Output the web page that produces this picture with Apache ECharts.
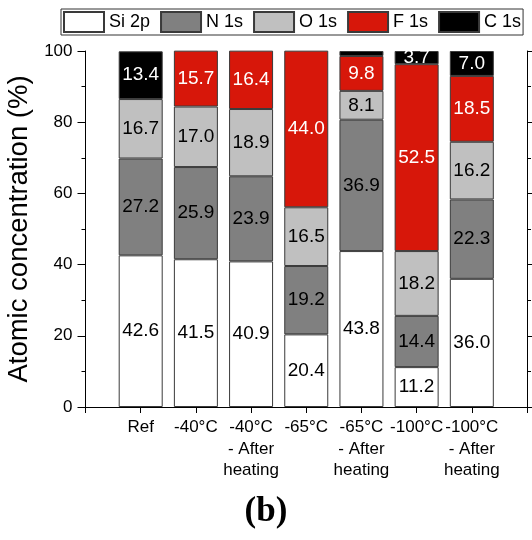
<!DOCTYPE html>
<html>
<head>
<meta charset="utf-8">
<script src="https://cdn.jsdelivr.net/npm/echarts@6/dist/echarts.min.js"></script>
<style>html,body{margin:0;padding:0;background:#fff}#c{width:532px;height:540px}</style>
</head>
<body>
<div id="c"></div>
<script>
const categories = ['Ref', '-40°C', '-40°C\n- After\nheating', '-65°C', '-65°C\n- After\nheating', '-100°C', '-100°C\n- After\nheating'];
const si2p = [42.6, 41.5, 40.9, 20.4, 43.8, 11.2, 36.0];
const n1s  = [27.2, 25.9, 23.9, 19.2, 36.9, 14.4, 22.3];
const o1s  = [16.7, 17.0, 18.9, 16.5, 8.1, 18.2, 16.2];
const f1s  = [null, 15.7, 16.4, 44.0, 9.8, 52.5, 18.5];
const c1s  = [13.4, null, null, null, 1.4, 3.7, 7.0];
const c1sLabelMin = 2; // small segments are not labelled
const yTicks = [0, 20, 40, 60, 80, 100];

const FONT = 'Liberation Sans, Arial, sans-serif';
const axisCats = [''].concat(categories, ['']);
function pad(arr) { return [null].concat(arr, [null]); }

function mkSeries(name, vals, color, labelColor, minLabel) {
  return {
    name: name, type: 'bar', stack: 'all', barWidth: 44,
    data: pad(vals).map(v => v == null ? '-' : v),
    itemStyle: { color: color, borderColor: '#3a3a3a', borderWidth: 1 },
    label: {
      show: true, position: 'inside', color: labelColor, fontSize: 19, fontFamily: FONT,
      formatter: p => (p.value < (minLabel || 0)) ? '' : Number(p.value).toFixed(1)
    },
    emphasis: { disabled: true }
  };
}

const chart = echarts.init(document.getElementById('c'), null, { renderer: 'canvas' });
const axisLine = { show: true, lineStyle: { color: '#000', width: 1 } };
chart.setOption({
  animation: false,
  textStyle: { fontFamily: FONT },
  legend: {
    left: 61, top: 9, orient: 'horizontal',
    itemWidth: 40, itemHeight: 20, itemGap: 10,
    padding: [2, 2, 2, 2],
    borderColor: '#333', borderWidth: 1,
    textStyle: { fontSize: 18, color: '#000', fontFamily: FONT, padding: [0, 0, 0, 0] },
    icon: 'rect',
    data: ['Si 2p', 'N 1s', 'O 1s', 'F 1s', 'C 1s']
  },
  grid: { left: 85.5, right: 5, top: 51, bottom: 133, containLabel: false, outerBoundsMode: 'none' },
  xAxis: [
    {
      type: 'category', data: axisCats, boundaryGap: false, position: 'bottom',
      axisLine: axisLine,
      axisTick: { show: true, length: 6, lineStyle: { color: '#000' }, alignWithLabel: true, interval: 0 },
      axisLabel: { interval: 0, fontSize: 17, color: '#000', lineHeight: 21.5, margin: 10, fontFamily: FONT },
      splitLine: { show: false }
    },
    {
      type: 'category', data: axisCats, boundaryGap: false, position: 'top',
      axisLine: axisLine,
      axisTick: { show: true, length: 6, lineStyle: { color: '#000' }, interval: 0 },
      axisLabel: { show: false }, splitLine: { show: false }
    }
  ],
  yAxis: [
    {
      type: 'value', min: yTicks[0], max: yTicks[yTicks.length - 1], interval: 20, position: 'left',
      name: 'Atomic concentration (%)', nameLocation: 'middle', nameGap: 52,
      nameTextStyle: { fontSize: 27.5, color: '#000', fontFamily: FONT },
      axisLine: axisLine,
      axisTick: { show: true, length: 8, lineStyle: { color: '#000' } },
      minorTick: { show: true, splitNumber: 2, length: 4, lineStyle: { color: '#000' } },
      axisLabel: { fontSize: 17, color: '#000', margin: 13, fontFamily: FONT },
      splitLine: { show: false }
    },
    {
      type: 'value', min: yTicks[0], max: yTicks[yTicks.length - 1], interval: 20, position: 'right',
      axisLine: axisLine,
      axisTick: { show: true, length: 8, lineStyle: { color: '#000' } },
      minorTick: { show: true, splitNumber: 2, length: 4, lineStyle: { color: '#000' } },
      axisLabel: { show: false }, splitLine: { show: false }
    }
  ],
  series: [
    mkSeries('Si 2p', si2p, '#ffffff', '#000'),
    mkSeries('N 1s', n1s, '#808080', '#000'),
    mkSeries('O 1s', o1s, '#c0c0c0', '#000'),
    mkSeries('F 1s', f1s, '#d7170a', '#fff'),
    mkSeries('C 1s', c1s, '#000000', '#fff', c1sLabelMin)
  ],
  graphic: [
    { type: 'text', left: 'center', top: 494, style: { text: '(b)', fontSize: 35, fontWeight: 'bold', fontFamily: 'Liberation Serif, Times New Roman, serif', fill: '#000' } }
  ]
});
</script>
</body>
</html>
